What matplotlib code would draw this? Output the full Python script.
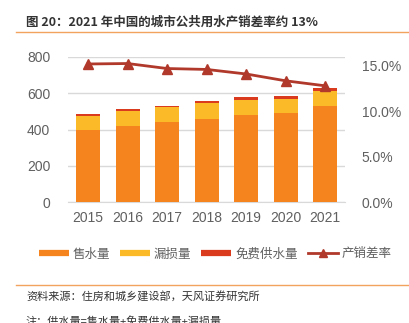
import matplotlib
matplotlib.use("Agg")
import matplotlib.pyplot as plt
from matplotlib.lines import Line2D
from matplotlib.ticker import PercentFormatter

plt.rcParams['font.family'] = ['Liberation Sans', 'Noto Sans CJK SC', 'DejaVu Sans']

# data (亿立方米 / %)
years = ['2015', '2016', '2017', '2018', '2019', '2020', '2021']
sold = [400, 418, 440, 460, 478, 489, 530]      # 售水量
leak = [73, 82, 81, 86, 84, 79, 82]             # 漏损量
free = [11, 11, 10, 13, 15, 16, 16]             # 免费供水量
gap_rate = [0.152, 0.1525, 0.147, 0.146, 0.141, 0.1335, 0.128]  # 产销差率

c_sold = '#F5841F'
c_leak = '#FBBA27'
c_free = '#DA3B1F'
c_line = '#B0392B'
grey = '#606060'

W, H = 409, 323
fig = plt.figure(figsize=(W / 100, H / 100), dpi=100)

# title and rules
fig.text(26 / W, 1 - 22 / H, '图 20：2021 年中国的城市公共用水产销差率约 13%',
         family=['Noto Sans CJK SC'], fontsize=9, fontweight='bold',
         color='#333333', va='center', ha='left')
fig.add_artist(Line2D([16 / W, 1], [1 - 32 / H] * 2, color='#F2A35E', lw=1))
fig.add_artist(Line2D([16 / W, 1], [1 - 285 / H] * 2, color='#F2A35E', lw=1))
fig.text(26 / W, 1 - 297 / H, '资料来源：住房和城乡建设部，天风证券研究所',
         family=['Noto Sans CJK SC'], fontsize=8, color='#333333',
         va='center', ha='left')
fig.text(26 / W, 1 - 316 / H, '注：供水量=售水量+免费供水量+漏损量',
         family=['Noto Sans CJK SC'], fontsize=8, color='#333333',
         va='top', ha='left', style='italic')

ax = fig.add_axes([68.3 / W, 120.7 / H, 276.7 / W, 145.6 / H])
x = range(len(years))
bw = 0.61
ax.bar(x, sold, bw, color=c_sold, zorder=3)
ax.bar(x, leak, bw, bottom=sold, color=c_leak, zorder=3)
ax.bar(x, free, bw, bottom=[s + l for s, l in zip(sold, leak)], color=c_free, zorder=3)

ax.set_xlim(-0.5, len(years) - 0.5)
ax.set_ylim(0, 800)
ax.set_yticks([0, 200, 400, 600, 800])
ax.set_xticks(list(x))
ax.set_xticklabels(years)
ax.grid(axis='y', color='#D9D9D9', lw=1, zorder=0)
for s in ['top', 'right', 'left']:
    ax.spines[s].set_visible(False)
ax.spines['bottom'].set_color('#D9D9D9')
ax.tick_params(length=0, labelsize=10, labelcolor=grey)
ax.tick_params(axis='y', pad=13)
ax.tick_params(axis='x', pad=6)

ax2 = ax.twinx()
ax2.plot(list(x), gap_rate, color=c_line, lw=2, marker='^', markersize=7, zorder=5)
ax2.set_ylim(0, 0.16)
ax2.set_yticks([0, 0.05, 0.10, 0.15])
ax2.yaxis.set_major_formatter(PercentFormatter(1.0, decimals=1))
for s in ax2.spines.values():
    s.set_visible(False)
ax2.tick_params(length=0, labelsize=10, labelcolor=grey, pad=12)

handles = [
    Line2D([], [], color=c_sold, lw=4.5, solid_capstyle='butt'),
    Line2D([], [], color=c_leak, lw=4.5, solid_capstyle='butt'),
    Line2D([], [], color=c_free, lw=4.5, solid_capstyle='butt'),
    Line2D([], [], color=c_line, lw=2, marker='^', markersize=6),
]
labels = ['售水量', '漏损量', '免费供水量', '产销差率']
fig.legend(handles, labels, ncol=4, frameon=False, loc='center',
           bbox_to_anchor=(215 / W, 1 - 254 / H), handlelength=2.4,
           handletextpad=0.3, columnspacing=0.8,
           prop={'family': ['Noto Sans CJK SC'], 'size': 9},
           labelcolor=grey)

fig.savefig('out.png', dpi=100)
